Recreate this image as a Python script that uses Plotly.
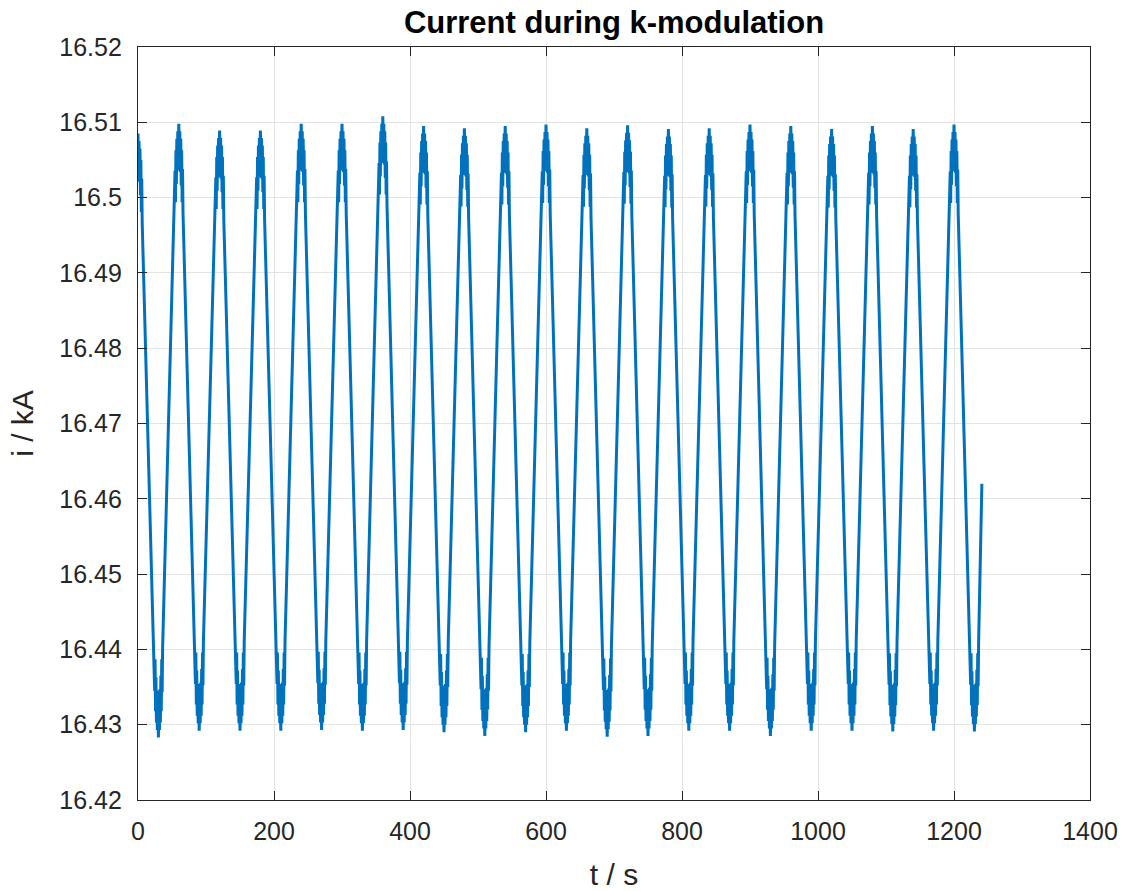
import plotly.graph_objects as go

# ---- data ----
peak_t = [0, 60, 120, 180, 240, 300, 360, 420, 480, 540, 600, 660, 720, 780,
          840, 900, 960, 1020, 1080, 1140, 1200]
peak_i = [16.5085, 16.5098, 16.5089, 16.5089, 16.5098, 16.5098, 16.5108, 16.5095,
          16.5092, 16.5095, 16.5097, 16.5092, 16.5096, 16.5091, 16.5092, 16.5097,
          16.5095, 16.5091, 16.5095, 16.5091, 16.5097]
trough_t = [30, 90, 150, 210, 270, 330, 390, 450, 510, 570, 630, 690, 750, 810,
            870, 930, 990, 1050, 1110, 1170, 1230]
trough_i = [16.4283, 16.4292, 16.4292, 16.4292, 16.4293, 16.4292, 16.4293, 16.4290,
            16.4285, 16.4290, 16.4292, 16.4284, 16.4285, 16.4292, 16.4292, 16.4285,
            16.4292, 16.4292, 16.4291, 16.4292, 16.4291]
# ripple cluster seen around each extreme: time offsets (s) and distance from the extreme (kA)
cap_dt = [-6.2, -5.5, -4.9, -4.2, -3.6, -2.9, -2.2, -1.5, -0.8, 0.0,
          0.8, 1.5, 2.2, 2.9, 3.6, 4.2, 4.9, 5.5, 6.2]
cap_d = [0.0118, 0.0062, 0.0104, 0.0035, 0.0080, 0.0020, 0.0062, 0.0010, 0.0040, 0.0,
         0.0040, 0.0010, 0.0064, 0.0020, 0.0082, 0.0035, 0.0104, 0.0060, 0.0119]
end_t = 1241
end_i = 16.4620

x_ticks = [0, 200, 400, 600, 800, 1000, 1200, 1400]
y_ticks = [16.42, 16.43, 16.44, 16.45, 16.46, 16.47, 16.48, 16.49, 16.50, 16.51, 16.52]
y_text = ["16.42", "16.43", "16.44", "16.45", "16.46", "16.47", "16.48", "16.49",
          "16.5", "16.51", "16.52"]

# ---- assemble the polyline from the read extremes ----
events = [(t, v, 1) for t, v in zip(peak_t, peak_i)] + \
         [(t, v, -1) for t, v in zip(trough_t, trough_i)]
events.sort()
xs, ys = [], []
for t, v, s in events:
    for dt, d in zip(cap_dt, cap_d):
        if t + dt < 0:
            continue
        xs.append(t + dt)
        ys.append(v - s * d)
xs.append(end_t)
ys.append(end_i)

FONT = "Liberation Sans, Arial"
fig = go.Figure()
fig.add_trace(go.Scatter(x=xs, y=ys, mode="lines",
                         line=dict(color="#0072BD", width=3),
                         hoverinfo="skip", showlegend=False))

axis_common = dict(
    showline=True, linecolor="#262626", linewidth=1.3, mirror="ticks",
    ticks="inside", ticklen=9, tickwidth=1.3, tickcolor="#262626",
    showgrid=True, gridcolor="#e3e3e3", gridwidth=1, zeroline=False,
    automargin=False,
    tickfont=dict(family=FONT, size=25, color="#262626"),
)

fig.update_layout(
    width=1126, height=891,
    margin=dict(l=138, r=36, t=47, b=91),
    paper_bgcolor="white", plot_bgcolor="white",
    title=dict(text="<b>Current during k-modulation</b>", x=614 / 1126, xanchor="center",
               y=1 - 22 / 891, yanchor="middle",
               font=dict(family=FONT, size=31, color="black")),
    xaxis=dict(range=[0, 1400], tickvals=x_ticks,
               ticktext=[str(v) for v in x_ticks], ticklabelstandoff=9,
               title=dict(text="t / s", standoff=20,
                          font=dict(family=FONT, size=30, color="#262626")),
               **axis_common),
    yaxis=dict(range=[16.42, 16.52], tickvals=y_ticks, ticktext=y_text,
               ticklabelstandoff=10,
               title=dict(text="i / kA", standoff=16,
                          font=dict(family=FONT, size=30, color="#262626")),
               **axis_common),
)

fig.write_html("out.html")
